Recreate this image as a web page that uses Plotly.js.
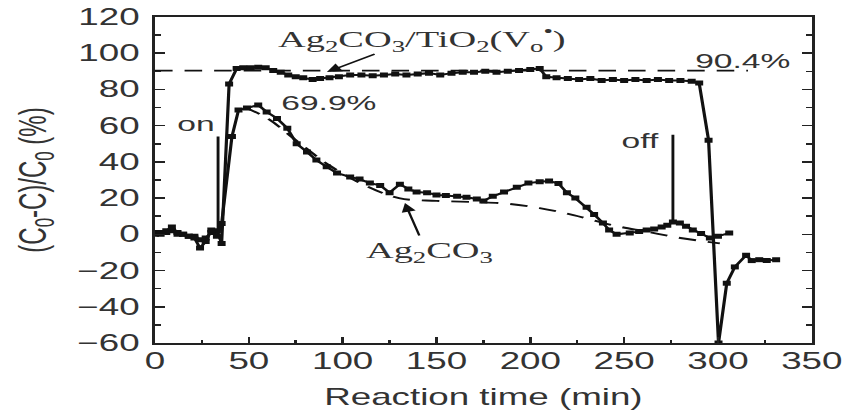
<!DOCTYPE html>
<html><head><meta charset="utf-8">
<script src="https://cdn.plot.ly/plotly-3.0.1.min.js"></script>
<style>
html,body{margin:0;padding:0;background:#fff;overflow:hidden;}
#wrap{width:847px;height:418px;overflow:hidden;position:relative;}
#chart{width:530px;height:418px;transform:scaleX(1.598);transform-origin:0 0;}
</style></head><body><div id="wrap"><div id="chart"></div></div>
<script>
// Ag2CO3/TiO2(Vo•) series
const compTime = [0,3,6,9,12,15,18,21,24,27,30,33,35.5,39.5,43.5,47,51,55,59,63,67,71,75,79,84,88,93,98,104,110,116,122,128,134,140,146,152,158,164,170,176,182,188,194,200,205,208.5,214,220,226,232,238,244,250,256,262,268,274,280,286,290,295,300.3,304.7,309,315,318,322,326,331];
const compVal  = [0,1,1,2,0,0,-1,-1,-3,-2,1,2,-5,83,91.5,92,92,92.3,92,90.5,89.5,88,87,86.5,85.5,86,86.5,87,88,88,87.5,88,88.5,88,88.5,89,88,89,89.5,89.5,90,89.5,90,90.5,91,91.5,87,86.5,86,85.5,86,85,85.5,85,85.5,85,85.5,85,85,84.5,83.5,52,-60,-27,-18,-11.5,-14.5,-14,-14.5,-14];
// Ag2CO3 series
const agTime = [0,3,6,9,12,15,18,21,24,27,30,33,35.5,41,44.5,49,55,59.5,65,70.5,75.5,81,86,91.5,97,104,109,114.5,120,125,130.5,135,139.4,145,150,155,161,166,171.5,175,180,186,192.8,199,205,210,215,219.5,224,230,234,238.7,242,246,253,258,262,266,270,273,276,279.7,283,286.6,291,295.7,300,306];
const agVal  = [1,0,2,4,1,0,-1,-2,-7.6,-4,2.4,-1,6,54,68.6,69.7,71.4,67.6,64,58.6,50,45.5,41,37.3,33.8,31.7,30.5,28.3,27,23,27.7,25,23.4,23,21.7,21.5,21,20.5,19.5,18.4,21,23.4,26,28.3,29,29.5,28,23,20,15,11,6.3,2.4,0,0.7,1.5,2.4,3,4,5,6.8,6.2,4.5,2.4,0.5,-2,-1,0.7];
// dashed guide lines
const trendTime = [48,60,75,93,110,130,150,170,187,205,223,244,262,280,301];
const trendVal  = [70,64,52,38,28,20,18.5,17.8,17,14.5,10.6,5,1.5,-2,-5];
const plateauTime = [0,316];
const plateauVal  = [90.4,90.4];
// light on / off markers
const onTime = [33.6,33.6];  const onVal = [-2,54];
const offTime = [276,276];   const offVal = [6.8,55];
// axis ticks
const xTicks = [0,50,100,150,200,250,300,350];
const yTicks = [-60,-40,-20,0,20,40,60,80,100,120];

const blk = '#111';
const txt = '#333';
const sans = 'Liberation Sans, Arial, sans-serif';
const serif = 'Liberation Serif, Times New Roman, serif';

const traces = [
  {x: plateauTime, y: plateauVal, mode:'lines', line:{color:blk, width:1.9, dash:'11px,7.5px'}},
  {x: trendTime, y: trendVal, mode:'lines', line:{color:blk, width:1.9, dash:'11px,7.5px', shape:'spline'}},
  {x: onTime, y: onVal, mode:'lines', line:{color:blk, width:1.8}},
  {x: offTime, y: offVal, mode:'lines', line:{color:blk, width:1.8}},
  {x: compTime, y: compVal, mode:'lines+markers', line:{color:blk, width:2}, marker:{symbol:'square', size:5, color:blk}},
  {x: agTime, y: agVal, mode:'lines+markers', line:{color:blk, width:2}, marker:{symbol:'square', size:5, color:blk}}
];

const layout = {
  width:530, height:418,
  margin:{l:97, r:22, t:17, b:75},
  paper_bgcolor:'#fff', plot_bgcolor:'#fff',
  showlegend:false,
  font:{family:sans, color:txt, size:23},
  xaxis:{range:[0,350], tickvals:xTicks, ticks:'inside', ticklen:6, tickwidth:1.6, tickcolor:'#222',
    minor:{dtick:25, ticks:'inside', ticklen:3, tickwidth:1.6, tickcolor:'#222'},
    showline:true, linewidth:2, linecolor:'#222', mirror:true, showgrid:false, zeroline:false,
    tickfont:{size:23, color:txt, family:sans}, ticklabelstandoff:-4,
    title:{text:'Reaction time (min)', font:{size:23, color:txt, family:sans}, standoff:16}},
  yaxis:{range:[-60,120], tickvals:yTicks, ticks:'inside', ticklen:6, tickwidth:1.6, tickcolor:'#222',
    minor:{dtick:10, ticks:'inside', ticklen:3.5, tickwidth:1.6, tickcolor:'#222'},
    showline:true, linewidth:2, linecolor:'#222', mirror:'ticks', showgrid:false, zeroline:false,
    tickfont:{size:23, color:txt, family:sans}, ticklabelstandoff:3,
    title:{text:'(C<sub>0</sub>-C)/C<sub>0</sub> (%)', font:{size:24, color:txt, family:sans}, standoff:12}},
  annotations:[
    {x:142.5, y:108, xref:'x', yref:'y', text:'Ag<sub>2</sub>CO<sub>3</sub>/TiO<sub>2</sub>(V<sub>o</sub><sup>•</sup>)', showarrow:false, font:{family:serif, size:24, color:txt}},
    {x:91.6, y:89.6, ax:118.3, ay:100, xref:'x', yref:'y', axref:'x', ayref:'y', text:'', showarrow:true, arrowhead:2, arrowsize:1.2, arrowwidth:1.5, arrowcolor:blk},
    {x:146.2, y:-10, xref:'x', yref:'y', text:'Ag<sub>2</sub>CO<sub>3</sub>', showarrow:false, font:{family:serif, size:24, color:txt}},
    {x:133.2, y:17.3, ax:141.2, ay:-1.5, xref:'x', yref:'y', axref:'x', ayref:'y', text:'', showarrow:true, arrowhead:2, arrowsize:1.2, arrowwidth:1.5, arrowcolor:blk},
    {x:92.7, y:73, xref:'x', yref:'y', text:'69.9%', showarrow:false, font:{family:sans, size:21, color:txt}},
    {x:21.8, y:61, xref:'x', yref:'y', text:'on', showarrow:false, font:{family:sans, size:21, color:txt}},
    {x:258.7, y:52, xref:'x', yref:'y', text:'off', showarrow:false, font:{family:sans, size:21, color:txt}},
    {x:313, y:96, xref:'x', yref:'y', text:'90.4%', showarrow:false, font:{family:sans, size:21, color:txt}}
  ]
};

Plotly.newPlot('chart', traces, layout, {staticPlot:true, displayModeBar:false});
</script></body></html>
